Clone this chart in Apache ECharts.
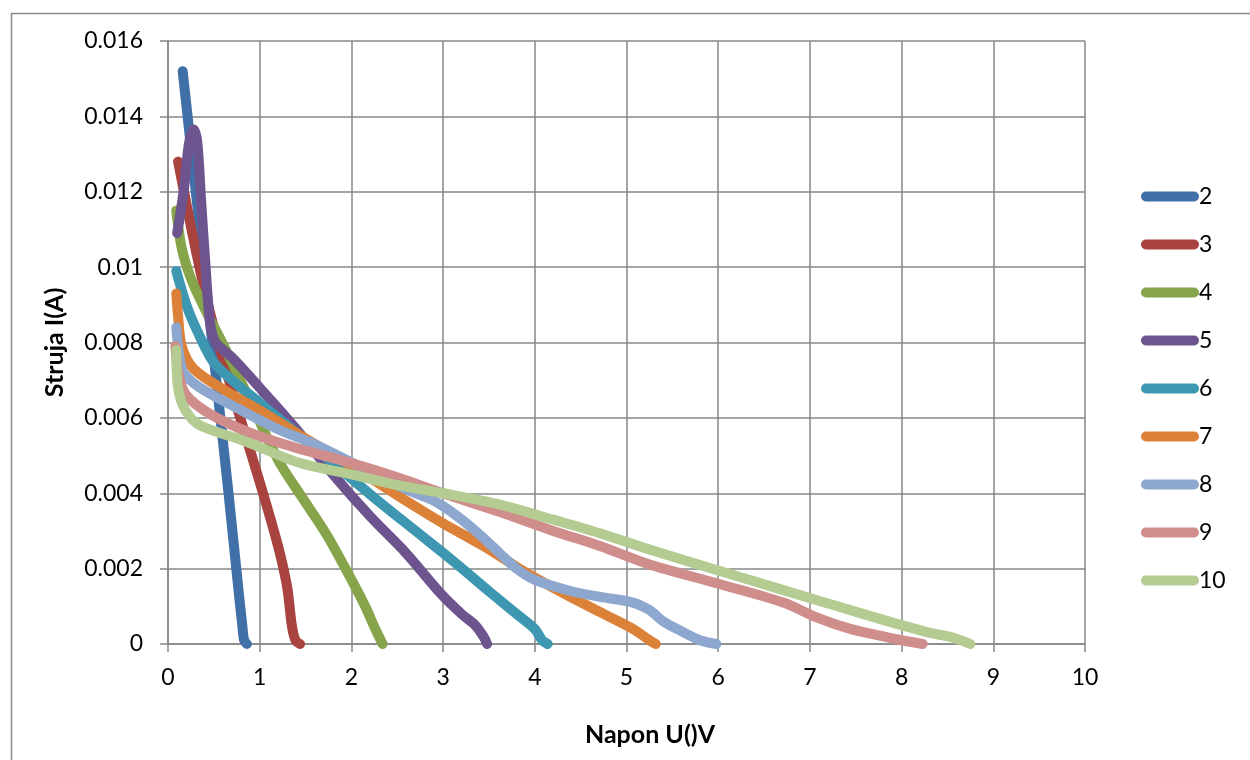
<!DOCTYPE html>
<html>
<head>
<meta charset="utf-8">
<script src="https://cdn.jsdelivr.net/npm/echarts@6/dist/echarts.min.js"></script>
<style>
html,body{margin:0;padding:0;background:#fff;}
#chart{width:1250px;height:760px;}
</style>
</head>
<body>
<div id="chart"></div>
<script>
// Series names (legend labels)
const seriesNames = ['2','3','4','5','6','7','8','9','10'];
const seriesColors = ['#4170A8','#A8433F','#86A44A','#6D548E','#3D97B0','#DB8238','#8EA7CE','#CF8D8C','#B4CB91'];

// Data: [Napon U (V), Struja I (A)]
const s2 = [[0.16,0.0152],[0.33,0.0114],[0.50,0.0076],[0.66,0.0040],[0.77,0.0014],[0.81,0.0005],[0.83,0.0001],[0.86,0.0]];
const s3 = [[0.11,0.0128],[0.24,0.0112],[0.37,0.0097],[0.50,0.0084],[0.75,0.0063],[1.00,0.0043],[1.20,0.0026],[1.30,0.0015],[1.35,0.0005],[1.39,0.0001],[1.44,0.0]];
const s4 = [[0.09,0.0115],[0.15,0.0105],[0.25,0.0097],[0.40,0.0089],[0.57,0.0081],[0.77,0.0071],[1.00,0.0059],[1.22,0.0048],[1.46,0.0039],[1.73,0.0029],[1.98,0.0018],[2.15,0.0010],[2.26,0.0004],[2.34,0.0]];
const s5 = [[0.10,0.0109],[0.17,0.0120],[0.23,0.0133],[0.28,0.01365],[0.32,0.0133],[0.36,0.0118],[0.41,0.0100],[0.46,0.0085],[0.52,0.0080],[0.70,0.0076],[1.00,0.0068],[1.40,0.0057],[1.80,0.0045],[2.20,0.0034],[2.60,0.0024],[2.97,0.00135],[3.20,0.0008],[3.35,0.0005],[3.44,0.0002],[3.48,0.0]];
const s6 = [[0.09,0.0099],[0.20,0.0090],[0.32,0.0083],[0.49,0.0075],[0.70,0.0070],[1.00,0.0064],[1.40,0.0056],[1.80,0.0048],[2.24,0.0039],[2.70,0.0030],[3.11,0.0022],[3.50,0.0014],[3.80,0.0008],[4.00,0.0004],[4.08,0.0001],[4.14,0.0]];
const s7 = [[0.09,0.0093],[0.11,0.0087],[0.15,0.0079],[0.28,0.0073],[0.64,0.0067],[1.00,0.0062],[1.40,0.0056],[1.95,0.0048],[2.53,0.0039],[3.00,0.0032],[3.44,0.0026],[3.90,0.0019],[4.35,0.0013],[4.75,0.0008],[5.07,0.0004],[5.25,0.0001],[5.32,0.0]];
const s8 = [[0.09,0.0084],[0.12,0.0077],[0.17,0.0072],[0.35,0.0068],[0.80,0.0062],[1.20,0.0057],[1.60,0.0053],[2.10,0.0047],[2.60,0.0041],[2.90,0.0038],[3.15,0.0034],[3.40,0.0029],[3.62,0.0024],[3.80,0.0020],[4.00,0.0017],[4.40,0.0014],[4.71,0.00125],[5.07,0.0011],[5.25,0.0009],[5.40,0.0006],[5.55,0.0004],[5.80,0.0001],[5.98,0.0]];
const s9 = [[0.08,0.0079],[0.12,0.0071],[0.20,0.0066],[0.46,0.0061],[0.90,0.0056],[1.40,0.0052],[2.00,0.0048],[2.53,0.0044],[3.00,0.0040],[3.62,0.0035],[4.20,0.0030],[4.71,0.0026],[5.26,0.0021],[6.00,0.0016],[6.71,0.0011],[7.08,0.0007],[7.44,0.0004],[7.80,0.0002],[8.00,0.0001],[8.23,0.0]];
const s10 = [[0.09,0.0078],[0.11,0.0068],[0.19,0.0062],[0.35,0.0058],[0.82,0.0054],[1.44,0.0048],[2.00,0.0045],[2.53,0.0042],[3.00,0.0040],[3.62,0.0037],[4.20,0.0033],[4.71,0.00294],[5.26,0.0025],[6.00,0.00195],[6.71,0.00143],[7.30,0.0010],[7.80,0.00064],[8.30,0.0003],[8.53,0.00019],[8.70,0.00005],[8.75,0.0]];
const allSeries = [s2,s3,s4,s5,s6,s7,s8,s9,s10];

// Axis ticks
const xMin = 0, xMax = 10, xStep = 1;
const yMin = 0, yMax = 0.016, yStep = 0.002;
const xTitle = 'Napon U()V';
const yTitle = 'Struja I(A)';

const FONT = 'Lato, "Open Sans", sans-serif';
const chart = echarts.init(document.getElementById('chart'), null, {renderer:'canvas'});
const pill = 'path://M5,0H53A5,5,0,0,1,53,10H5A5,5,0,0,1,5,0Z';

const option = {
  animation: false,
  backgroundColor: '#ffffff',
  grid: {left:168, right:165, top:41, bottom:116, containLabel:false},
  xAxis: {
    type:'value', min:xMin, max:xMax, interval:xStep,
    axisLine:{show:true, onZero:false, lineStyle:{color:'#878787', width:1.5}},
    axisTick:{show:true, inside:false, length:8, lineStyle:{color:'#878787', width:1.5}},
    splitLine:{show:true, lineStyle:{color:'#878787', width:1.5}},
    axisLabel:{margin:22, color:'#000', fontSize:23, fontFamily:FONT}
  },
  yAxis: {
    type:'value', min:yMin, max:yMax, interval:yStep,
    name: yTitle, nameLocation:'middle', nameGap:101, nameRotate:90,
    nameTextStyle:{color:'#000', fontSize:25, fontWeight:'bold', fontFamily:FONT},
    axisLine:{show:true, lineStyle:{color:'#878787', width:1.5}},
    axisTick:{show:true, inside:false, length:8, lineStyle:{color:'#878787', width:1.5}},
    splitLine:{show:true, lineStyle:{color:'#878787', width:1.5}},
    axisLabel:{margin:25, color:'#000', fontSize:23, fontFamily:FONT,
      formatter: v => v === 0 ? '0' : String(+v.toFixed(3))}
  },
  legend: {
    orient:'vertical', left:1136, top:180, itemGap:25,
    itemWidth:58, itemHeight:10, icon:pill,
    textStyle:{color:'#000', fontSize:23, fontFamily:FONT, padding:[0,0,0,-5]},
    data: seriesNames
  },
  graphic: [
    {type:'rect', left:9, top:11, shape:{x:0,y:0,width:1400,height:900}, silent:true,
     style:{fill:'none', stroke:'#898989', lineWidth:1.5}},
    {type:'text', x:650, y:735, silent:true,
     style:{text:xTitle, fill:'#000', font:'bold 25px ' + FONT, textAlign:'center', textVerticalAlign:'middle'}}
  ],
  series: allSeries.map((d,i) => ({
    name: seriesNames[i], type:'line', data:d,
    smooth:0.3, showSymbol:false, symbol:'none',
    lineStyle:{color:seriesColors[i], width:10, cap:'round', join:'round'},
    itemStyle:{color:seriesColors[i]},
    emphasis:{disabled:true}
  }))
};
chart.setOption(option);
</script>
</body>
</html>
